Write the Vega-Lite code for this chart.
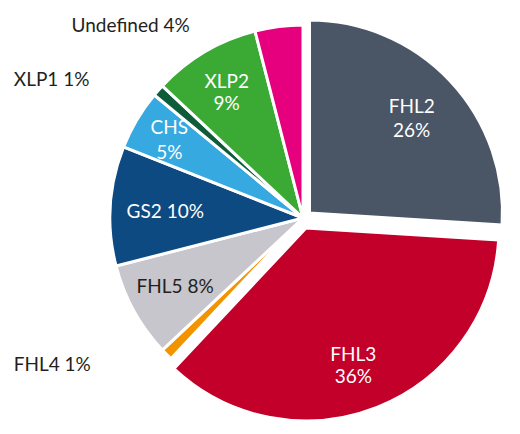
{
  "$schema": "https://vega.github.io/schema/vega-lite/v6.json",
  "autosize": "none",
  "width": 434,
  "height": 434,
  "padding": {"left": 86, "top": 1, "right": 0, "bottom": 0},
  "background": "white",
  "config": {"view": {"stroke": null}, "text": {"font": "Lato", "fontSize": 19, "fontWeight": 400}},
  "data": {
    "values": [
      {"gene": "FHL2", "pct": 26, "order": 1, "label": "FHL2\n26%"},
      {"gene": "FHL3", "pct": 36, "order": 2, "label": "FHL3\n36%"},
      {"gene": "FHL4", "pct": 1, "order": 3, "label": "FHL4 1%"},
      {"gene": "FHL5", "pct": 8, "order": 4, "label": "FHL5 8%"},
      {"gene": "GS2", "pct": 10, "order": 5, "label": "GS2 10%"},
      {"gene": "CHS", "pct": 5, "order": 6, "label": "CHS\n5%"},
      {"gene": "XLP1", "pct": 1, "order": 7, "label": "XLP1 1%"},
      {"gene": "XLP2", "pct": 9, "order": 8, "label": "XLP2\n9%"},
      {"gene": "Undefined", "pct": 4, "order": 9, "label": "Undefined 4%"}
    ]
  },
  "encoding": {
    "theta": {"field": "pct", "type": "quantitative", "stack": true},
    "order": {"field": "order", "type": "quantitative"}
  },
  "layer": [
    {
      "mark": {"type": "arc", "outerRadius": 193, "stroke": "white", "strokeWidth": 3},
      "encoding": {
        "color": {"field": "gene", "type": "nominal", "legend": null,
          "scale": {"domain": ["FHL2", "FHL3", "FHL4", "FHL5", "GS2", "CHS", "XLP1", "XLP2", "Undefined"],
                    "range": ["#4a5566", "#c20029", "#f29400", "#c6c6cc", "#0d4a82", "#36a9e1", "#0f5c3b", "#3aaa35", "#e6007e"]}},
        "opacity": {"condition": {"test": "datum.gene === 'FHL2' || datum.gene === 'FHL3'", "value": 0}, "value": 1}
      }
    },
    {
      "mark": {"type": "arc", "outerRadius": 193, "stroke": "white", "strokeWidth": 3, "xOffset": 6.5, "yOffset": -5},
      "encoding": {
        "color": {"field": "gene", "type": "nominal", "legend": null},
        "opacity": {"condition": {"test": "datum.gene === 'FHL2'", "value": 1}, "value": 0}
      }
    },
    {
      "mark": {"type": "arc", "outerRadius": 193, "stroke": "white", "strokeWidth": 3, "xOffset": 3, "yOffset": 10},
      "encoding": {
        "color": {"field": "gene", "type": "nominal", "legend": null},
        "opacity": {"condition": {"test": "datum.gene === 'FHL3'", "value": 1}, "value": 0}
      }
    },
    {
      "mark": {"type": "text", "radius": 145, "dx": 3, "dy": -12, "lineBreak": "\n", "lineHeight": 24, "align": "center", "baseline": "middle", "color": "white"},
      "encoding": {
        "text": {"field": "label"},
        "opacity": {"condition": {"test": "datum.gene === 'FHL2'", "value": 1}, "value": 0}
      }
    },
    {
      "mark": {"type": "text", "radius": 145, "dx": -3, "dy": 2, "lineBreak": "\n", "lineHeight": 22, "align": "center", "baseline": "middle", "color": "white"},
      "encoding": {
        "text": {"field": "label"},
        "opacity": {"condition": {"test": "datum.gene === 'FHL3'", "value": 1}, "value": 0}
      }
    },
    {
      "mark": {"type": "text", "radius": 146, "dy": -1, "align": "center", "baseline": "middle", "color": "#231f20"},
      "encoding": {
        "text": {"field": "label"},
        "opacity": {"condition": {"test": "datum.gene === 'FHL5'", "value": 1}, "value": 0}
      }
    },
    {
      "mark": {"type": "text", "radius": 138, "dy": 3, "align": "center", "baseline": "middle", "color": "white"},
      "encoding": {
        "text": {"field": "label"},
        "opacity": {"condition": {"test": "datum.gene === 'GS2'", "value": 1}, "value": 0}
      }
    },
    {
      "mark": {"type": "text", "radius": 146, "dx": -8, "dy": -16, "lineBreak": "\n", "lineHeight": 25, "align": "center", "baseline": "middle", "color": "white"},
      "encoding": {
        "text": {"field": "label"},
        "opacity": {"condition": {"test": "datum.gene === 'CHS'", "value": 1}, "value": 0}
      }
    },
    {
      "mark": {"type": "text", "radius": 146, "dx": -2, "dy": -10, "lineBreak": "\n", "lineHeight": 22, "align": "center", "baseline": "middle", "color": "white"},
      "encoding": {
        "text": {"field": "label"},
        "opacity": {"condition": {"test": "datum.gene === 'XLP2'", "value": 1}, "value": 0}
      }
    },
    {
      "mark": {"type": "text", "radius": 194, "dx": -89, "dy": 0, "align": "right", "baseline": "middle", "color": "#231f20"},
      "encoding": {
        "text": {"field": "label"},
        "opacity": {"condition": {"test": "datum.gene === 'Undefined'", "value": 1}, "value": 0}
      }
    },
    {
      "mark": {"type": "text", "radius": 194, "dx": -68, "dy": -10, "align": "right", "baseline": "middle", "color": "#231f20"},
      "encoding": {
        "text": {"field": "label"},
        "opacity": {"condition": {"test": "datum.gene === 'XLP1'", "value": 1}, "value": 0}
      }
    },
    {
      "mark": {"type": "text", "radius": 194, "dx": -75, "dy": 10, "align": "right", "baseline": "middle", "color": "#231f20"},
      "encoding": {
        "text": {"field": "label"},
        "opacity": {"condition": {"test": "datum.gene === 'FHL4'", "value": 1}, "value": 0}
      }
    }
  ]
}
